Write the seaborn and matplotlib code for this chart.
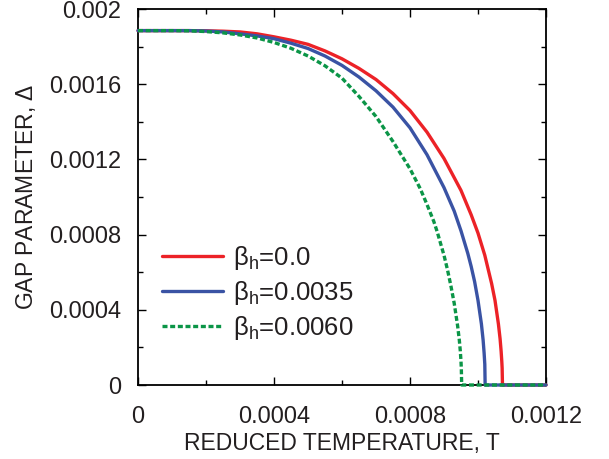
import numpy as np
import pandas as pd
import matplotlib
matplotlib.use("Agg")
import matplotlib.pyplot as plt
import seaborn as sns
from matplotlib.ticker import MultipleLocator

# ---- data ----
T_red = [0, 0.0001, 0.00015, 0.0002, 0.00025, 0.0003, 0.00035, 0.0004, 0.00045, 0.0005,
         0.00055, 0.0006, 0.00065, 0.0007, 0.00075, 0.0008, 0.00085, 0.0009, 0.00095,
         0.00098, 0.001, 0.00102, 0.00103, 0.00104, 0.00105, 0.00106, 0.001065, 0.001068,
         0.00107, 0.001071, 0.001072, 0.0012]
D_red = [0.001885, 0.001885, 0.001885, 0.001884, 0.001882, 0.001878, 0.001868, 0.001852,
         0.001834, 0.001812, 0.001777, 0.001735, 0.001684, 0.001625, 0.001550, 0.001460,
         0.001345, 0.001205, 0.001035, 0.000905, 0.000808, 0.000690, 0.000615, 0.000540,
         0.000450, 0.000325, 0.000245, 0.000180, 0.000125, 0.000090, 0.0, 0.0]

T_blue = [0, 0.0001, 0.00015, 0.0002, 0.00025, 0.0003, 0.00035, 0.0004, 0.00045, 0.0005,
          0.00055, 0.0006, 0.00065, 0.0007, 0.00075, 0.0008, 0.00085, 0.0009, 0.00093,
          0.00095, 0.00097, 0.00098, 0.00099, 0.001, 0.00101, 0.001015, 0.001018, 0.00102,
          0.001021, 0.0012]
D_blue = [0.001885, 0.001885, 0.001885, 0.001883, 0.001878, 0.001868, 0.001857, 0.001842,
          0.001818, 0.001790, 0.001750, 0.001700, 0.001638, 0.001565, 0.001478, 0.001368,
          0.001225, 0.001050, 0.000925, 0.000820, 0.000700, 0.000630, 0.000550, 0.000450,
          0.000325, 0.000240, 0.000170, 0.000110, 0.0, 0.0]

T_green = [0, 0.0001, 0.00015, 0.0002, 0.00025, 0.0003, 0.00035, 0.0004, 0.00045, 0.0005,
           0.00055, 0.0006, 0.00065, 0.0007, 0.00075, 0.0008, 0.00083, 0.00085, 0.00087,
           0.00088, 0.0009, 0.00091, 0.00092, 0.00093, 0.00094, 0.000945, 0.000948,
           0.00095, 0.000951, 0.000952, 0.0012]
D_green = [0.001885, 0.001885, 0.001884, 0.001880, 0.001873, 0.001862, 0.001846, 0.001822,
           0.001791, 0.001750, 0.001698, 0.001632, 0.001535, 0.001428, 0.001295, 0.001150,
           0.001045, 0.000960, 0.000870, 0.000815, 0.000690, 0.000615, 0.000530, 0.000435,
           0.000315, 0.000240, 0.000180, 0.000125, 0.000085, 0.0, 0.0]

labels = [r"$\mathregular{\beta_h}$=0.0", r"$\mathregular{\beta_h}$=0.0035",
          r"$\mathregular{\beta_h}$=0.0060"]
x_ticks = [0, 0.0004, 0.0008, 0.0012]
x_ticklabels = ["0", "0.0004", "0.0008", "0.0012"]
y_ticks = [0, 0.0004, 0.0008, 0.0012, 0.0016, 0.002]
y_ticklabels = ["0", "0.0004", "0.0008", "0.0012", "0.0016", "0.002"]

sns.set_style("ticks")
plt.rcParams["font.family"] = ["Liberation Sans", "DejaVu Sans"]
plt.rcParams["mathtext.fontset"] = "custom"
plt.rcParams["mathtext.rm"] = "Liberation Sans"
plt.rcParams["mathtext.it"] = "Liberation Sans:italic"

fig = plt.figure(figsize=(6.09, 4.59), dpi=100)
ax = fig.add_axes([138/609, 1-385/459, 408/609, 376/459])

colors = ["#ec2227", "#3a53a4", "#0b9547"]
styles = ["-", "-", (0, (1.5, 0.8))]
series = [(T_red, D_red), (T_blue, D_blue), (T_green, D_green)]
for (tx, dy), c, ls, lab in zip(series, colors, styles, labels):
    df = pd.DataFrame({"T": tx, "D": dy})
    sns.lineplot(data=df, x="T", y="D", ax=ax, color=c, linestyle=ls, lw=2.4,
                 estimator=None, sort=False, label=lab, clip_on=False, zorder=3)

ax.set_xlim(0, 0.0012)
ax.set_ylim(0, 0.002)
ax.set_xticks(x_ticks)
ax.set_xticklabels(x_ticklabels)
ax.set_yticks(y_ticks)
ax.set_yticklabels(y_ticklabels)
ax.xaxis.set_minor_locator(MultipleLocator(0.0002))
ax.yaxis.set_minor_locator(MultipleLocator(0.0002))
ax.tick_params(which="both", direction="in", top=True, right=True, colors="black",
               labelcolor="#231f20")
ax.tick_params(which="major", length=6, width=1.0, labelsize=17)
ax.tick_params(which="minor", length=3.8, width=1.0)
ax.tick_params(axis="x", which="major", pad=15)
ax.tick_params(axis="y", which="major", pad=12)
for s in ax.spines.values():
    s.set_linewidth(1.3)
    s.set_color("black")
    s.set_visible(True)

ax.set_xlabel("REDUCED TEMPERATURE, T", fontsize=16.5, color="#231f20", labelpad=3)
ax.set_ylabel(r"GAP PARAMETER, $\mathit{\Delta}$", fontsize=16.5, color="#231f20",
              labelpad=8)

leg = ax.legend(loc="center left", bbox_to_anchor=(0.058, 0.245), frameon=False,
                fontsize=18.5, handlelength=2.4, handletextpad=0.37, labelspacing=0.28,
                borderaxespad=0, borderpad=0)
for t in leg.get_texts():
    t.set_color("#231f20")

fig.savefig("out.png", dpi=100)
